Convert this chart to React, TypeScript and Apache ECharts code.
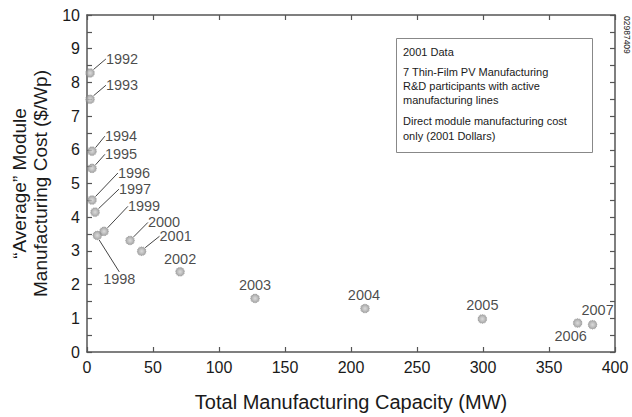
import React, { useEffect, useRef } from "react";
import * as echarts from "echarts";

// ---- data ----
const years = ["1992", "1993", "1994", "1995", "1996", "1997", "1998", "1999", "2000", "2001", "2002", "2003", "2004", "2005", "2006", "2007"];
const capacityMW = [2.3, 2.3, 3.8, 3.8, 3.8, 6.1, 7.8, 12.9, 32.6, 41.4, 70.5, 127.3, 210.6, 299.5, 371.7, 383];
const costPerWp = [8.28, 7.5, 5.96, 5.45, 4.51, 4.15, 3.46, 3.58, 3.31, 2.99, 2.38, 1.59, 1.29, 0.98, 0.86, 0.81];
const withLeader = [true, true, true, true, true, true, true, true, true, true, false, false, false, false, false, false];

const xTitle = "Total Manufacturing Capacity (MW)";
const yTitleLines = ["\u201CAverage\u201D Module", "Manufacturing Cost ($/Wp)"];
const noteLines = [
  "2001 Data",
  "7 Thin-Film PV Manufacturing",
  "R&D participants with active",
  "manufacturing lines",
  "Direct module manufacturing cost",
  "only (2001 Dollars)",
];
const docId = "02987409";

// ---- label placement (pixel offsets of the year labels from their points) ----
const labelOffsets: [number, number][] = [
  [32, -14], [32, -14], [29, -15], [29, -14], [42, -27], [40, -23], [22, 44], [40, -25],
  [34, -18], [34, -15], [0, -13], [0, -13], [-1, -14], [0, -14], [-7, 13], [5, -15],
];
const noteLineY = [52, 72, 86, 100, 121, 136];

const FONT = "'Liberation Sans', Arial, Helvetica, sans-serif";
const TEXT = "#1a1a1a";
const AXIS = "#555";

function gearPath(): string {
  const n = 16;
  const pts: string[] = [];
  for (let i = 0; i < n * 2; i++) {
    const r = i % 2 === 0 ? 10 : 8.3;
    const a = (Math.PI * i) / n;
    pts.push(`${(i === 0 ? "M" : "L")}${(10 + r * Math.cos(a)).toFixed(2)} ${(10 + r * Math.sin(a)).toFixed(2)}`);
  }
  return "path://" + pts.join(" ") + " Z";
}

export default function App() {
  const ref = useRef<HTMLDivElement>(null);
  useEffect(() => {
    if (!ref.current) return;
    const chart = echarts.init(ref.current, undefined, { renderer: "svg" });
    const axisCommon = {
      type: "value" as const,
      axisLine: { show: true, onZero: false, lineStyle: { color: AXIS, width: 1.5 } },
      axisTick: { show: true, inside: true, length: 5, lineStyle: { color: AXIS, width: 1.2 } },
      splitLine: { show: false },
    };
    const data = years.map((y, i) => ({
      name: y,
      value: [capacityMW[i], costPerWp[i]],
      labelLine: { show: withLeader[i] },
    }));
    chart.setOption({
      animation: false,
      backgroundColor: "#fff",
      textStyle: { fontFamily: FONT },
      grid: { left: 87, right: 17, top: 15, bottom: 62 },
      xAxis: [
        {
          ...axisCommon,
          position: "bottom",
          min: 0,
          max: 400,
          interval: 50,
          axisLabel: { color: TEXT, fontSize: 16, margin: 7, fontFamily: FONT },
          name: xTitle,
          nameLocation: "middle",
          nameGap: 40,
          nameTextStyle: { color: TEXT, fontSize: 20, fontFamily: FONT },
        },
        {
          ...axisCommon,
          position: "top",
          min: 0,
          max: 400,
          interval: 50,
          axisLabel: { show: false },
        },
      ],
      yAxis: [
        {
          ...axisCommon,
          position: "left",
          min: 0,
          max: 10,
          interval: 1,
          minorTick: { show: true, splitNumber: 2, length: 5, lineStyle: { color: AXIS, width: 1.2 } },
          axisLabel: { color: TEXT, fontSize: 16, margin: 7, fontFamily: FONT },
          name: yTitleLines.join("\n"),
          nameLocation: "middle",
          nameRotate: 90,
          nameGap: 36,
          nameTextStyle: { color: TEXT, fontSize: 19, lineHeight: 21, fontFamily: FONT },
        },
        {
          ...axisCommon,
          position: "right",
          min: 0,
          max: 10,
          interval: 1,
          minorTick: { show: true, splitNumber: 2, length: 5, lineStyle: { color: AXIS, width: 1.2 } },
          axisLabel: { show: false },
        },
      ],
      series: [
        {
          type: "scatter",
          xAxisIndex: 0,
          yAxisIndex: 0,
          symbol: gearPath(),
          symbolSize: 10,
          itemStyle: {
            color: {
              type: "radial",
              x: 0.5,
              y: 0.5,
              r: 0.5,
              colorStops: [
                { offset: 0, color: "#d2d2d2" },
                { offset: 0.55, color: "#aaaaaa" },
                { offset: 1, color: "#7a7a7a" },
              ],
            },
          },
          label: {
            show: true,
            position: "inside",
            formatter: "{b}",
            color: TEXT,
            fontSize: 14.5,
            fontFamily: FONT,
          },
          labelLine: { show: true, lineStyle: { color: "#444", width: 1 } },
          labelLayout: (params: any) => {
            const o = labelOffsets[params.dataIndex] || [0, 0];
            return { dx: o[0], dy: o[1], hideOverlap: false };
          },
          data,
          z: 3,
        },
      ],
      graphic: [
        {
          type: "rect",
          shape: { x: 396.5, y: 38.5, width: 196, height: 114 },
          style: { fill: "#fff", stroke: "#888", lineWidth: 1 },
          z: 10,
        },
        ...noteLines.map((t, i) => ({
          type: "text",
          x: 403,
          y: noteLineY[i],
          style: {
            text: t,
            fill: TEXT,
            font: `11px ${FONT}`,
            textVerticalAlign: "middle",
            verticalAlign: "middle",
          },
          z: 11,
        })),
        {
          type: "text",
          x: 627,
          y: 16,
          rotation: -Math.PI / 2,
          style: {
            text: docId,
            fill: TEXT,
            font: `8.5px ${FONT}`,
            verticalAlign: "middle",
            textVerticalAlign: "middle",
          },
          z: 11,
        },
      ],
    });
    return () => chart.dispose();
  }, []);
  return <div ref={ref} style={{ width: 632, height: 417, position: "absolute", left: 0, top: 0 }} />;
}
